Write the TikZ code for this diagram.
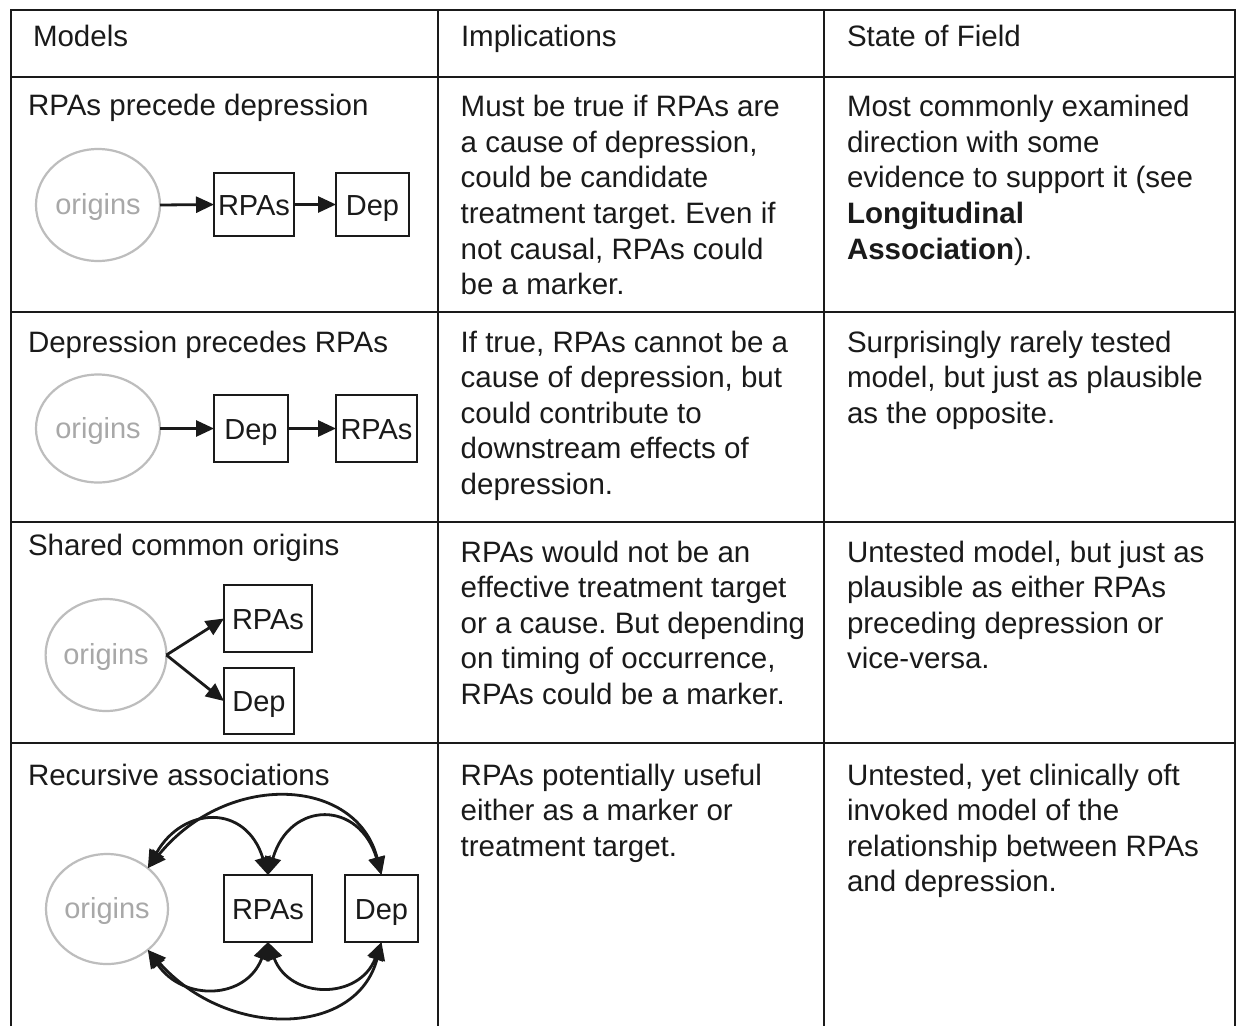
\documentclass[tikz,border=0pt]{standalone}
\usepackage{fontspec}
\setmainfont{Liberation Sans}
\usetikzlibrary{arrows.meta,shapes.geometric}
\definecolor{ink}{HTML}{1A1A1A}
\definecolor{origline}{HTML}{BDBDBD}
\definecolor{origtxt}{HTML}{A8A8A8}
\frenchspacing
\newcommand\celllines[4]{\foreach \ln [count=\k] in {#4}{\node[txt] (#1-\k) at (#2,{#3+35.6*(\k-1)}) {\ln};}}
\begin{document}
\begin{tikzpicture}[x=1pt,y=-1pt,
  txt/.style={anchor=base west, inner sep=0pt, outer sep=0pt, font=\fontsize{29.5}{35}\selectfont\frenchspacing, text=ink},
  gridline/.style={line width=2.7pt, draw=ink},
  orignode/.style={ellipse, draw=origline, line width=2.2pt, inner sep=0pt, outer sep=0pt, text=origtxt, font=\fontsize{29}{34}\selectfont, text height=19pt, text depth=0pt},
  boxnode/.style={draw=ink, line width=2.6pt, inner sep=0pt, outer sep=0pt, text=ink, font=\fontsize{29}{34}\selectfont, text height=21pt, text depth=0pt},
  arr/.style={line width=2.8pt, draw=ink, -{Triangle[length=18pt,width=16pt]}},
  barr/.style={line width=2.8pt, draw=ink, {Triangle[length=18pt,width=16pt]}-{Triangle[length=18pt,width=16pt]}}
]
\useasboundingbox (0,0) rectangle (1238,1026);
\fill[white] (0,0) rectangle (1238,1026);
% table grid
\draw[gridline] (11,1026) -- (11,10) -- (1235,10) -- (1235,1026);
\draw[gridline] (438,10) -- (438,1026);
\draw[gridline] (824,10) -- (824,1026);
\foreach \yy in {77,312,522,743} \draw[gridline] (11,\yy) -- (1235,\yy);
% header
\node[txt] (hmodels) at (33,46) {Models};
\node[txt] (himpl) at (461,46) {Implications};
\node[txt] (hstate) at (847,46) {State of Field};
% row 1
\node[txt] (t1) at (28,115) {RPAs precede depression};
\celllines{m1}{460.7}{116.7}{Must be true if RPAs are,{a cause of depression,},could be candidate,treatment target. Even if,{not causal, RPAs could},be a marker.}
\celllines{s1}{847}{116.7}{Most commonly examined,direction with some,evidence to support it (see,\textbf{Longitudinal},\textbf{Association}).}
\node[orignode, minimum width=124pt, minimum height=112pt] (o1) at (98,205) {origins};
\node[boxnode, minimum width=80pt, minimum height=63pt] (r1) at (254,204.5) {RPAs};
\node[boxnode, minimum width=73pt, minimum height=63pt] (d1) at (372.5,204.5) {Dep};
\draw[arr] (o1.east) -- (r1.west);
\draw[arr] (r1.east) -- (d1.west);
% row 2
\node[txt] (t2) at (28,352) {Depression precedes RPAs};
\celllines{m2}{460.7}{352}{{If true, RPAs cannot be a},{cause of depression, but},could contribute to,downstream effects of,depression.}
\celllines{s2}{847}{352}{Surprisingly rarely tested,{model, but just as plausible},as the opposite.}
\node[orignode, minimum width=124pt, minimum height=108pt] (o2) at (98,428.5) {origins};
\node[boxnode, minimum width=74pt, minimum height=67pt] (d2) at (251,428.5) {Dep};
\node[boxnode, minimum width=81pt, minimum height=67pt] (r2) at (376.5,428.5) {RPAs};
\draw[arr] (o2.east) -- (d2.west);
\draw[arr] (d2.east) -- (r2.west);
% row 3
\node[txt] (t3) at (28,555) {Shared common origins};
\celllines{m3}{460.7}{562}{RPAs would not be an,effective treatment target,or a cause. But depending,{on timing of occurrence,},RPAs could be a marker.}
\celllines{s3}{847}{562}{{Untested model, but just as},plausible as either RPAs,preceding depression or,vice-versa.}
\node[orignode, minimum width=120pt, minimum height=112pt] (o3) at (106,655) {origins};
\node[boxnode, minimum width=88pt, minimum height=67pt] (r3) at (268,618.5) {RPAs};
\node[boxnode, minimum width=70pt, minimum height=66pt] (d3) at (259,701) {Dep};
\draw[arr] (o3.east) -- (r3.west);
\draw[arr] (o3.east) -- (d3.west);
% row 4
\node[txt] (t4) at (28,785) {Recursive associations};
\celllines{m4}{460.7}{785}{RPAs potentially useful,either as a marker or,treatment target.}
\celllines{s4}{847}{785}{{Untested, yet clinically oft},invoked model of the,relationship between RPAs,and depression.}
\node[orignode, minimum width=122pt, minimum height=110pt] (o4) at (107,909) {origins};
\node[boxnode, minimum width=88pt, minimum height=67pt] (r4) at (268,908.5) {RPAs};
\node[boxnode, minimum width=73pt, minimum height=67pt] (d4) at (381.5,908.5) {Dep};
% top arcs
\draw[barr] (o4.45) .. controls +(35,-62) and +(-22,-72) .. (r4.north);
\draw[barr] (r4.north) .. controls +(22,-75) and +(-22,-75) .. (d4.north);
\draw[barr] (o4.45) .. controls +(80,-98) and +(-25,-98) .. (d4.north);
% bottom arcs
\draw[barr] (o4.-45) .. controls +(35,52) and +(-22,58) .. (r4.south);
\draw[barr] (r4.south) .. controls +(22,58) and +(-22,58) .. (d4.south);
\draw[barr] (o4.-45) .. controls +(80,90) and +(-25,95) .. (d4.south);
\end{tikzpicture}
\end{document}
